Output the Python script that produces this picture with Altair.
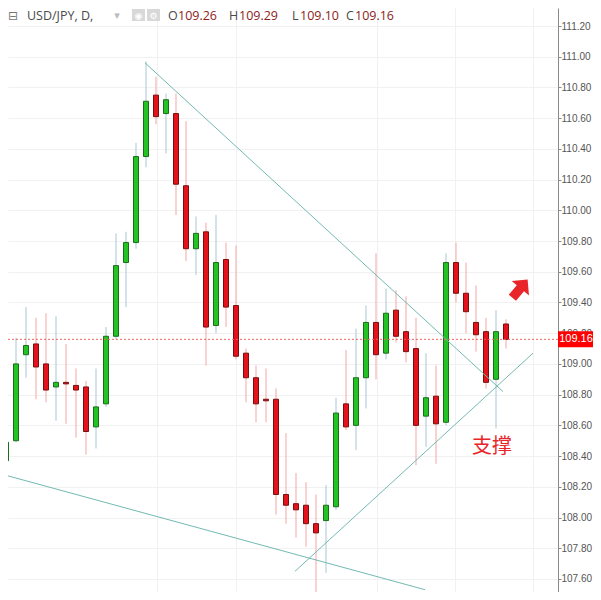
import altair as alt
import pandas as pd

# ---- data ----
symbol = "USD/JPY, D,"
opens = [108.37, 108.50, 109.06, 109.13, 109.00, 108.85, 108.88, 108.86, 108.85, 108.59,
         108.74, 109.18, 109.66, 109.79, 110.35, 110.75, 110.63, 110.63, 110.16, 109.75,
         109.86, 109.25, 109.68, 109.38, 109.07, 108.91, 108.77, 108.77, 108.15, 108.09,
         108.08, 107.96, 107.98, 108.07, 108.74, 108.60, 108.91, 109.27, 109.07, 109.35,
         109.21, 109.10, 108.66, 108.79, 108.62, 109.66, 109.46, 109.27, 109.21, 108.90,
         109.26]
highs = [108.83, 109.17, 109.37, 109.30, 109.33, 109.31, 109.13, 108.97, 108.89, 108.97,
         109.24, 109.85, 109.86, 110.44, 110.97, 110.87, 110.76, 110.76, 110.58, 109.96,
         109.92, 109.97, 109.79, 109.77, 109.10, 108.99, 108.97, 108.84, 108.55, 108.29,
         108.23, 108.15, 108.21, 108.78, 109.09, 109.23, 109.38, 109.72, 109.49, 109.48,
         109.44, 109.30, 109.07, 108.99, 109.72, 109.79, 109.66, 109.51, 109.30, 109.35,
         109.29]
lows = [108.36, 108.49, 108.91, 108.77, 108.75, 108.63, 108.61, 108.52, 108.41, 108.45,
        108.72, 109.16, 109.37, 109.75, 110.28, 110.56, 110.37, 109.97, 109.67, 109.58,
        108.99, 109.20, 109.24, 109.03, 108.75, 108.62, 108.62, 108.02, 107.96, 107.87,
        107.81, 107.48, 107.64, 108.05, 108.57, 108.44, 108.71, 108.90, 109.03, 109.14,
        109.01, 108.34, 108.46, 108.35, 108.60, 109.40, 109.20, 109.08, 108.84, 108.58,
        109.10]
closes = [108.49, 109.00, 109.12, 108.98, 108.83, 108.88, 108.87, 108.83, 108.56, 108.72,
          109.18, 109.64, 109.79, 110.35, 110.71, 110.61, 110.72, 110.17, 109.75, 109.85,
          109.24, 109.66, 109.37, 109.05, 108.91, 108.74, 108.76, 108.15, 108.08, 108.05,
          107.96, 107.90, 108.08, 108.68, 108.59, 108.91, 109.27, 109.06, 109.33, 109.18,
          109.08, 108.60, 108.78, 108.61, 109.66, 109.46, 109.34, 109.19, 108.88, 109.21,
          109.16]
price_ticks = [107.6, 107.8, 108.0, 108.2, 108.4, 108.6, 108.8, 109.0, 109.2, 109.4,
               109.6, 109.8, 110.0, 110.2, 110.4, 110.6, 110.8, 111.0, 111.2]
time_grid = [15.1, 23.0, 37.1, 44.9, 52.7]

# trend lines (bar index, price)
line_names = ["upper", "upper", "lower", "lower", "support", "support"]
line_idx = [13.9, 49.7, -0.3, 41.9, 28.9, 52.7]
line_price = [110.96, 108.82, 108.28, 107.53, 107.65, 109.07]

note_text = "支撑"
note_idx, note_price = 48.6, 108.46
arrow_idx, arrow_price = 51.4, 109.49

# ---- tables ----
n = len(opens)
df = pd.DataFrame({"i": list(range(n)), "open": opens, "high": highs,
                   "low": lows, "close": closes})
df["dir"] = ["up" if c >= o else "down" for o, c in zip(opens, closes)]
lines = pd.DataFrame({"name": line_names, "i": line_idx, "p": line_price})
last = df.iloc[-1]

xs = alt.Scale(domain=[0.2, 55.2], nice=False, zero=False, padding=0)
ys = alt.Scale(domain=[107.5151, 111.3172], nice=False, zero=False, padding=0)

xaxis = alt.Axis(values=time_grid, labels=False, ticks=False, domain=False,
                 grid=True, gridColor="#f1f1f1", title=None)
yaxis = alt.Axis(orient="right", values=price_ticks, format=".2f",
                 labelFont="Liberation Sans", labelFontSize=10, labelColor="#555555",
                 tickSize=3, tickColor="#8a8a8a", domainColor="#8a8a8a",
                 labelPadding=0, grid=True, gridColor="#f1f1f1", title=None)


def X(field):
    return alt.X(field, scale=xs, axis=xaxis, title=None)


def Y(field):
    return alt.Y(field, scale=ys, axis=yaxis, title=None)


base = alt.Chart(df)

wicks = base.mark_rule(strokeWidth=1, clip=True).encode(
    x=X("i:Q"), y=Y("low:Q"), y2="high:Q",
    color=alt.Color("dir:N", scale=alt.Scale(domain=["up", "down"],
                                             range=["#a9c6d3", "#f4a5a5"]), legend=None),
)

bodies = base.mark_bar(size=5, strokeWidth=1, clip=True).encode(
    x=X("i:Q"), y=Y("open:Q"), y2="close:Q",
    fill=alt.Fill("dir:N", scale=alt.Scale(domain=["up", "down"],
                                           range=["#22c322", "#e3121b"]), legend=None),
    stroke=alt.Stroke("dir:N", scale=alt.Scale(domain=["up", "down"],
                                               range=["#1a6e1a", "#7a0e0e"]), legend=None),
)

trend = alt.Chart(lines).mark_line(color="#73b9b1", strokeWidth=1, clip=True).encode(
    x=X("i:Q"), y=Y("p:Q"), detail="name:N",
)

last_df = pd.DataFrame({"p": [last["close"]], "t": [f"{last['close']:.2f}"]})
price_line = alt.Chart(last_df).mark_rule(color="#f06464", strokeDash=[2, 2],
                                          strokeWidth=1).encode(y=Y("p:Q"))
price_box = alt.Chart(last_df).mark_rect(color="#ff0000", yOffset=-8, y2Offset=8,
                                         clip=False).encode(
    x=alt.value(550), x2=alt.value(585), y=Y("p:Q"), y2="p:Q")
price_txt = alt.Chart(last_df).mark_text(color="white", fontSize=11,
                                         font="Liberation Sans", align="center",
                                         baseline="middle", clip=False).encode(
    x=alt.value(568), y=Y("p:Q"), text="t:N")

ann_df = pd.DataFrame({"i": [note_idx], "p": [note_price], "t": [note_text]})
note = alt.Chart(ann_df).mark_text(color="#e8262a", fontSize=20,
                                   font="Noto Sans CJK SC", baseline="middle").encode(
    x=X("i:Q"), y=Y("p:Q"), text="t:N")

arrow_df = pd.DataFrame({"i": [arrow_idx], "p": [arrow_price]})
arrow = alt.Chart(arrow_df).mark_point(
    shape="M0,-1 L0.95,-0.05 L0.4,-0.05 L0.4,1 L-0.4,1 L-0.4,-0.05 L-0.95,-0.05 Z",
    filled=True, fill="#e8262a", opacity=1, size=560, angle=40, strokeWidth=0).encode(
    x=X("i:Q"), y=Y("p:Q"))


def label(text, x, y, color="#4a4a4a", size=12.5, font="Open Sans", align="left"):
    return alt.Chart(pd.DataFrame({"t": [text]})).mark_text(
        color=color, fontSize=size, font=font, align=align, baseline="middle",
        clip=False).encode(x=alt.value(x), y=alt.value(y), text="t:N")


def icon_box(x):
    return alt.Chart(pd.DataFrame({"t": [0]})).mark_rect(color="#d8d8d8").encode(
        x=alt.value(x), x2=alt.value(x + 13), y=alt.value(1), y2=alt.value(13))


val_color = "#8b1c1c"
hy = 8
header = [
    label("⊟", 5, hy, color="#777777", size=12, font="DejaVu Sans", align="center"),
    label(symbol, 19, hy),
    label("▾", 109, hy, color="#bbbbbb", size=11, font="DejaVu Sans", align="center"),
    icon_box(124), icon_box(139),
    label("◉", 130.5, 8, color="white", size=9, font="DejaVu Sans", align="center"),
    label("⚙", 145.5, 8, color="white", size=9, font="DejaVu Sans", align="center"),
    label("O", 160, hy), label(f"{last['open']:.2f}", 170, hy, color=val_color),
    label("H", 221, hy), label(f"{last['high']:.2f}", 231, hy, color=val_color),
    label("L", 284, hy), label(f"{last['low']:.2f}", 292, hy, color=val_color),
    label("C", 338, hy), label(f"{last['close']:.2f}", 347, hy, color=val_color),
]

chart = alt.layer(wicks, bodies, trend, price_line, note, arrow,
                  price_box, price_txt, *header).properties(
    width=550, height=584,
    autosize=alt.AutoSizeParams(type="none"),
    padding={"left": 0, "top": 0, "right": 35, "bottom": 0},
    background="white",
).configure_view(stroke=None)

chart.save("out.html", embed_options={"renderer": "svg", "actions": False})
